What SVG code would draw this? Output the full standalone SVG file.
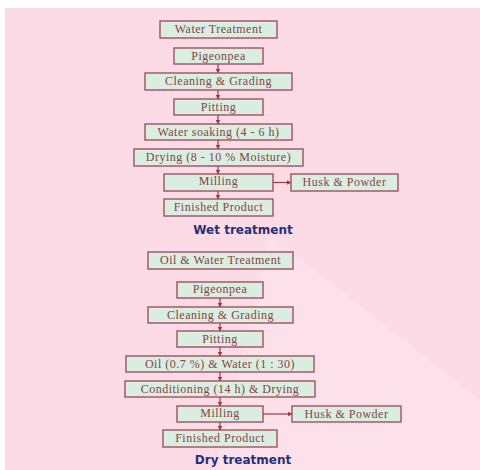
<svg xmlns="http://www.w3.org/2000/svg" width="480" height="470" viewBox="0 0 480 470">
<style>
.box rect{fill:#d9eee1;stroke:#9a4652;stroke-width:1.3}
.box text{font-family:"Liberation Serif",serif;font-size:12px;fill:#8a4048;text-anchor:middle;letter-spacing:0.5px}
.title{font-family:"DejaVu Sans",Verdana,sans-serif;font-size:12px;font-weight:bold;fill:#25307a;text-anchor:middle}
#connectors line{stroke:#9a3a48;stroke-width:1.2}
</style>
<defs>
<marker id="ah" markerWidth="5" markerHeight="5" refX="4.5" refY="2.5" orient="auto" markerUnits="userSpaceOnUse">
<path d="M0,0 L5,2.5 L0,5 Z" fill="#9a3a48"/>
</marker>
</defs>
<rect x="0" y="0" width="480" height="470" fill="#ffffff"/>
<rect x="5" y="8" width="475" height="462" fill="#fcdbe6"/>
<polygon points="270,235 480,400 480,470 300,470 215,470" fill="#fde4ec" opacity="0.6"/>

<g id="connectors">
<line x1="218" y1="64" x2="218" y2="73" marker-end="url(#ah)"/>
<line x1="218" y1="90" x2="218" y2="99" marker-end="url(#ah)"/>
<line x1="218" y1="115" x2="218" y2="124" marker-end="url(#ah)"/>
<line x1="218" y1="140" x2="218" y2="149" marker-end="url(#ah)"/>
<line x1="218" y1="166" x2="218" y2="174" marker-end="url(#ah)"/>
<line x1="218" y1="191" x2="218" y2="199" marker-end="url(#ah)"/>
<line x1="273" y1="182.5" x2="291" y2="182.5" marker-end="url(#ah)"/>
<line x1="220" y1="298" x2="220" y2="307" marker-end="url(#ah)"/>
<line x1="220" y1="323" x2="220" y2="331" marker-end="url(#ah)"/>
<line x1="220" y1="347" x2="220" y2="356" marker-end="url(#ah)"/>
<line x1="220" y1="372" x2="220" y2="381" marker-end="url(#ah)"/>
<line x1="220" y1="397" x2="220" y2="406" marker-end="url(#ah)"/>
<line x1="220" y1="422" x2="220" y2="430" marker-end="url(#ah)"/>
<line x1="263" y1="414" x2="292" y2="414" marker-end="url(#ah)"/>
</g>

<g id="w_water" class="box"><rect x="160" y="21" width="117" height="17"/><text x="218.5" y="33">Water Treatment</text></g>
<g id="w_pigeonpea" class="box"><rect x="174" y="48" width="89" height="16"/><text x="218.5" y="59.5">Pigeonpea</text></g>
<g id="w_cleaning" class="box"><rect x="145" y="73" width="147" height="17"/><text x="218.5" y="85">Cleaning &amp; Grading</text></g>
<g id="w_pitting" class="box"><rect x="174" y="99" width="89" height="16"/><text x="218.5" y="110.5">Pitting</text></g>
<g id="w_soaking" class="box"><rect x="145" y="124" width="147" height="16"/><text x="218.5" y="135.5">Water soaking (4 - 6 h)</text></g>
<g id="w_drying" class="box"><rect x="134" y="149" width="169" height="17"/><text x="218.5" y="161">Drying (8 - 10 % Moisture)</text></g>
<g id="w_milling" class="box"><rect x="164" y="174" width="109" height="17"/><text x="218.5" y="185">Milling</text></g>
<g id="w_husk" class="box"><rect x="291" y="174" width="107" height="17"/><text x="344.5" y="186">Husk &amp; Powder</text></g>
<g id="w_finished" class="box"><rect x="164" y="199" width="109" height="17"/><text x="218.5" y="211">Finished Product</text></g>
<text class="title" x="243" y="234">Wet treatment</text>

<g id="d_oilwater" class="box"><rect x="148" y="252" width="145" height="17"/><text x="220.5" y="264">Oil &amp; Water Treatment</text></g>
<g id="d_pigeonpea" class="box"><rect x="177" y="282" width="86" height="16"/><text x="220" y="293">Pigeonpea</text></g>
<g id="d_cleaning" class="box"><rect x="148" y="307" width="145" height="16"/><text x="220.5" y="318.5">Cleaning &amp; Grading</text></g>
<g id="d_pitting" class="box"><rect x="177" y="331" width="86" height="16"/><text x="220" y="342.5">Pitting</text></g>
<g id="d_oil" class="box"><rect x="126" y="356" width="188" height="16"/><text x="220" y="367.5">Oil (0.7 %) &amp; Water (1 : 30)</text></g>
<g id="d_conditioning" class="box"><rect x="125" y="381" width="190" height="16"/><text x="220" y="392.5">Conditioning (14 h) &amp; Drying</text></g>
<g id="d_milling" class="box"><rect x="177" y="406" width="86" height="16"/><text x="220" y="417">Milling</text></g>
<g id="d_husk" class="box"><rect x="292" y="406" width="109" height="16"/><text x="346.5" y="418">Husk &amp; Powder</text></g>
<g id="d_finished" class="box"><rect x="163" y="430" width="114" height="17"/><text x="220" y="442">Finished Product</text></g>
<text class="title" x="243" y="464">Dry treatment</text>
</svg>
